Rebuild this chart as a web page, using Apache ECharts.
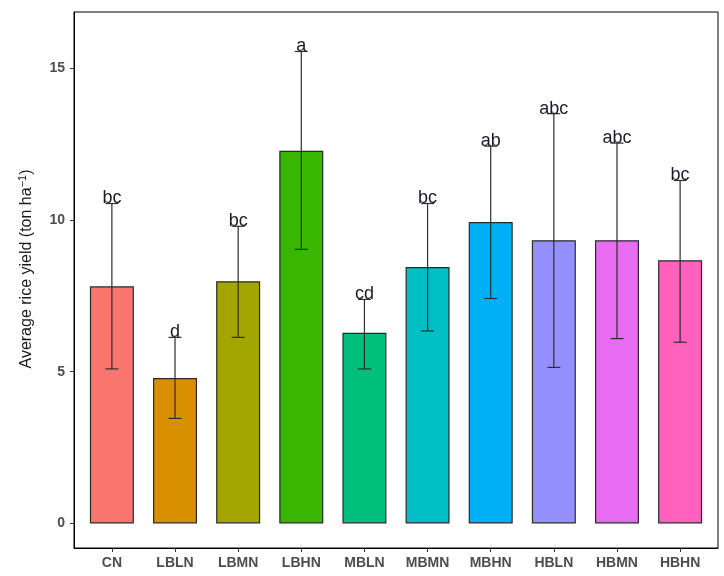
<!DOCTYPE html>
<html><head><meta charset="utf-8">
<script src="https://cdn.jsdelivr.net/npm/echarts@6/dist/echarts.min.js"></script>
<style>html,body{margin:0;padding:0;background:#fff}#c{width:724px;height:576px}</style>
</head><body><div id="c"></div>
<script>
const categories = ['CN','LBLN','LBMN','LBHN','MBLN','MBMN','MBHN','HBLN','HBMN','HBHN'];
const means  = [7.81, 4.79, 7.98, 12.28, 6.28, 8.45, 9.93, 9.33, 9.33, 8.67];
const lower  = [5.09, 3.46, 6.13, 9.03, 5.09, 6.34, 7.41, 5.14, 6.09, 5.97];
const upper  = [10.54, 6.13, 9.79, 15.55, 7.38, 10.54, 12.43, 13.50, 12.53, 11.30];
const letters = ['bc','d','bc','a','cd','bc','ab','abc','abc','bc'];
const colors = ['#F8766D','#D89000','#A3A500','#39B600','#00BF7D','#00BFC4','#00B0F6','#9590FF','#E76BF3','#FF62BC'];
const yTicks = [0,5,10,15];

const chart = echarts.init(document.getElementById('c'));
const pos = categories.map((_, i) => i + 1);
chart.setOption({
  animation: false,
  grid: {left: 74, right: 6, top: 12, bottom: 28, show: true, borderColor: '#000', borderWidth: 1},
  xAxis: {
    type: 'value', min: 0.4, max: 10.6,
    splitLine: {show: false},
    axisLine: {onZero: false, lineStyle: {color: '#000', width: 1}},
    axisTick: {show: true, customValues: pos, length: 4, lineStyle: {color: '#333'}},
    axisLabel: {customValues: pos, formatter: v => categories[Math.round(v) - 1] || '',
      color: '#4d4d4d', fontWeight: 'bold', fontSize: 14, fontFamily: 'Liberation Sans', margin: 8}
  },
  yAxis: {
    type: 'value', min: -0.81, max: 16.85,
    splitLine: {show: false},
    axisLine: {show: true, onZero: false, lineStyle: {color: '#000', width: 1}},
    axisTick: {show: true, customValues: yTicks, length: 4, lineStyle: {color: '#333'}},
    axisLabel: {customValues: yTicks, color: '#4d4d4d', fontWeight: 'bold', fontSize: 14, fontFamily: 'Liberation Sans', margin: 9}
  },
  graphic: [{
    type: 'text', x: 27, y: 269, rotation: Math.PI / 2,
    style: {
      text: '{n|Average rice yield (ton ha}{s|−1}{n|)}',
      rich: {
        n: {fontSize: 16, fontFamily: 'Liberation Sans', fill: '#1a1a1a'},
        s: {fontSize: 11, fontFamily: 'Liberation Sans', fill: '#1a1a1a', verticalAlign: 'top', padding: [0,0,8,0]}
      },
      align: 'center', verticalAlign: 'middle'
    }
  }],
  series: [
    {
      type: 'bar', barWidth: 44,
      data: means.map((v, i) => ({value: [pos[i], v], itemStyle: {color: colors[i], borderColor: '#2a2a2a', borderWidth: 1.2}}))
    },
    {
      type: 'custom',
      data: means.map((v, i) => [pos[i], lower[i], upper[i]]),
      renderItem: (params, api) => {
        const x = api.value(0);
        const lo = api.coord([x, api.value(1)]);
        const hi = api.coord([x, api.value(2)]);
        const cap = 6.5;
        const st = {stroke: '#2e2e2e', lineWidth: 1.2};
        return {type: 'group', children: [
          {type: 'line', shape: {x1: lo[0], y1: lo[1], x2: hi[0], y2: hi[1]}, style: st},
          {type: 'line', shape: {x1: lo[0]-cap, y1: lo[1], x2: lo[0]+cap, y2: lo[1]}, style: st},
          {type: 'line', shape: {x1: hi[0]-cap, y1: hi[1], x2: hi[0]+cap, y2: hi[1]}, style: st}
        ]};
      },
      z: 3
    },
    {
      type: 'custom',
      data: means.map((v, i) => [pos[i], upper[i]]),
      renderItem: (params, api) => {
        const p = api.coord([api.value(0), api.value(1)]);
        return {type: 'text', x: p[0], y: p[1] + 4,
          style: {text: letters[params.dataIndex], fontSize: 18, fontFamily: 'Liberation Sans', fill: '#1a1a2a', align: 'center', verticalAlign: 'bottom'}};
      },
      z: 4
    }
  ]
});
</script></body></html>
